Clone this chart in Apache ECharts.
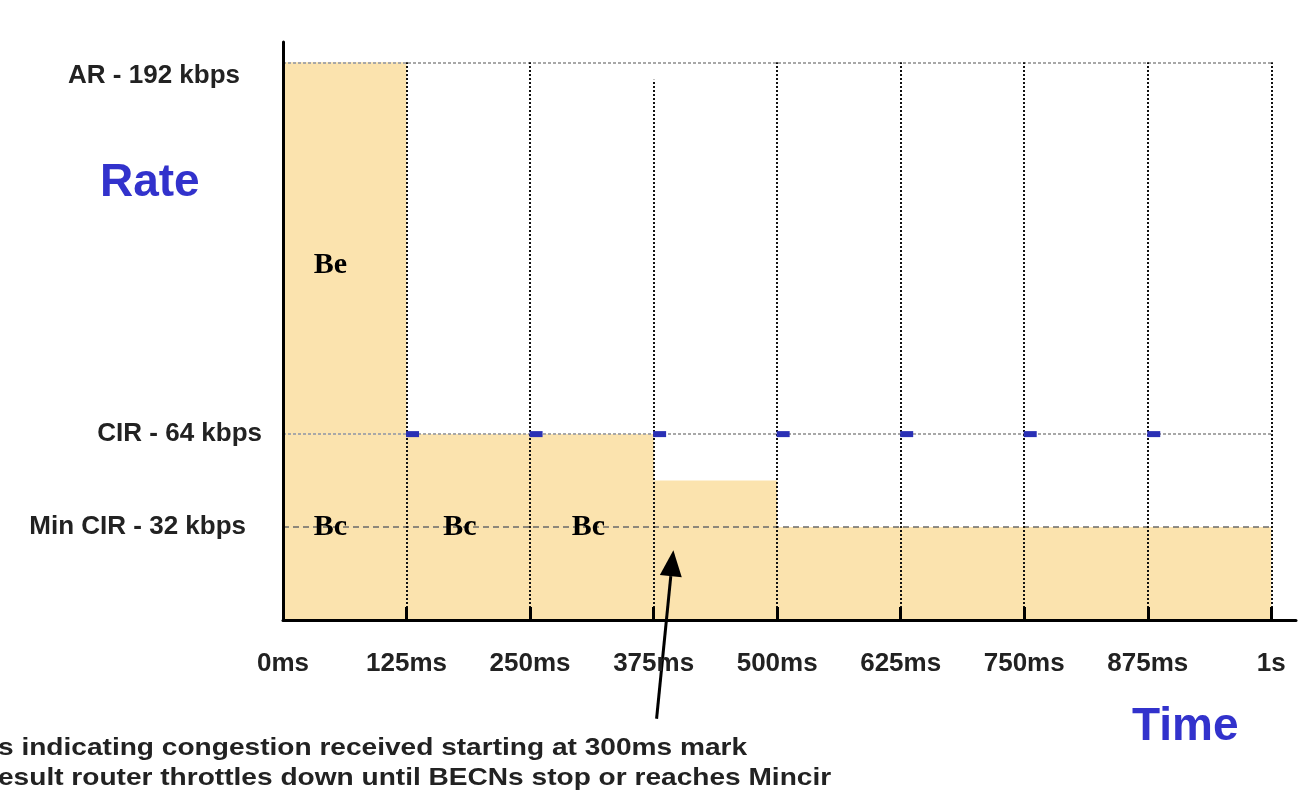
<!DOCTYPE html>
<html>
<head>
<meta charset="utf-8">
<script src="https://cdn.jsdelivr.net/npm/echarts@6/dist/echarts.min.js"></script>
<style>html,body{margin:0;padding:0;background:#fff;}#c{width:1300px;height:794px;}</style>
</head>
<body>
<div id="c"></div>
<script>
// ---- data ----
const segStart = [0, 125, 375, 500];
const segEnd = [125, 375, 500, 1000];
const segRate = [192, 64, 48, 32];
const xTickValues = [0, 125, 250, 375, 500, 625, 750, 875, 1000];
const xTickLabels = ['0ms', '125ms', '250ms', '375ms', '500ms', '625ms', '750ms', '875ms', '1s'];
const rateLevels = [32, 64, 192];
const rateLabels = ['Min CIR - 32 kbps', 'CIR - 64 kbps', 'AR - 192 kbps'];
const gridTimes = [125, 250, 375, 500, 625, 750, 875, 1000];
const gridTops = [192, 192, 186, 192, 192, 192, 192, 192];
const becnTimes = [125, 250, 375, 500, 625, 750, 875];
const burstNames = ['Be', 'Bc', 'Bc', 'Bc'];
const burstX = [48, 48, 179, 309];
const burstY = [122, 32, 32, 32];
const arrowTail = [378, -34];
const arrowTip = [395, 24];

const FONT = "'Liberation Sans', Arial, sans-serif";
const SERIF = "'Liberation Serif', 'Times New Roman', serif";
const chart = echarts.init(document.getElementById('c'), null, {renderer: 'canvas'});

const segData = segStart.map((s, i) => [s, segEnd[i], segRate[i]]);

const hLines = [
  {v: 192, style: {color: '#a8a8a8', type: [3, 2], width: 2}},
  {v: 64, style: {color: '#a8a8a8', type: [3, 2], width: 2}},
  {v: 32, style: {color: '#6a6a6a', type: [6, 4], width: 1.5}}
];
const markData = [];
hLines.forEach(h => markData.push([{coord: [0, h.v], lineStyle: h.style}, {coord: [1000, h.v]}]));
gridTimes.forEach((t, i) => markData.push([{coord: [t, 0], lineStyle: {color: '#111', type: [2, 2], width: 2}}, {coord: [t, gridTops[i]]}]));

const textGraphics = [
  {type: 'text', left: 100, top: 160, style: {text: 'Rate', fontFamily: FONT, fontWeight: 'bold', fontSize: 46, fill: '#3232cc'}},
  {type: 'text', left: 1132, top: 704, style: {text: 'Time', fontFamily: FONT, fontWeight: 'bold', fontSize: 46, fill: '#3232cc'}},
  {type: 'text', x: -2, y: 736, scaleX: 1.17, style: {text: 's indicating congestion received starting at 300ms mark', fontFamily: FONT, fontWeight: 'bold', fontSize: 24, fill: '#222'}},
  {type: 'text', x: -2, y: 766, scaleX: 1.17, style: {text: 'esult router throttles down until BECNs stop or reaches Mincir', fontFamily: FONT, fontWeight: 'bold', fontSize: 24, fill: '#222'}}
];

const option = {
  animation: false,
  grid: {left: 283, right: 4, top: 42, bottom: 174},
  xAxis: {
    type: 'value', min: 0, max: 1025, interval: 125, z: 10,
    axisLine: {lineStyle: {color: '#000', width: 3}},
    axisTick: {show: true, inside: true, length: 13, customValues: xTickValues.slice(1), lineStyle: {color: '#000', width: 3}},
    splitLine: {show: false},
    axisLabel: {
      margin: 31, fontFamily: FONT, fontWeight: 'bold', fontSize: 26, color: '#222',
      customValues: xTickValues,
      formatter: v => { const i = xTickValues.indexOf(v); return i < 0 ? '' : xTickLabels[i]; }
    }
  },
  yAxis: {
    type: 'value', min: 0, max: 199, interval: 32, z: 10,
    axisLine: {show: true, lineStyle: {color: '#000', width: 3}},
    axisTick: {show: false},
    splitLine: {show: false},
    axisLabel: {
      margin: 21, fontFamily: FONT, fontWeight: 'bold', fontSize: 26, color: '#222',
      customValues: rateLevels,
      formatter: v => {
        const i = rateLevels.indexOf(v);
        if (i < 0) return '';
        return '{l' + i + '|' + rateLabels[i] + '}';
      },
      rich: {
        l0: {fontFamily: FONT, fontWeight: 'bold', fontSize: 26, color: '#222', padding: [0, 16, 0, 0]},
        l1: {fontFamily: FONT, fontWeight: 'bold', fontSize: 26, color: '#222', padding: [0, 0, 0, 0]},
        l2: {fontFamily: FONT, fontWeight: 'bold', fontSize: 26, color: '#222', padding: [26, 22, 0, 0]}
      }
    }
  },
  series: [
    {
      type: 'custom', data: segData, z: 1,
      encode: {x: [0, 1], y: 2},
      renderItem: (params, api) => {
        const p0 = api.coord([api.value(0), api.value(2)]);
        const p1 = api.coord([api.value(1), 0]);
        return {type: 'rect', shape: {x: p0[0], y: p0[1], width: p1[0] - p0[0], height: p1[1] - p0[1]},
          style: {fill: '#fbe3ae'}};
      }
    },
    {
      type: 'line', data: [], z: 3,
      markLine: {silent: true, symbol: ['none', 'none'], label: {show: false}, data: markData, animation: false}
    },
    {
      type: 'scatter', z: 20, symbol: 'rect', symbolSize: [13, 6], symbolOffset: [6, 0],
      itemStyle: {color: '#2a30b5', opacity: 1},
      data: becnTimes.map(t => [t, 64])
    },
    {
      type: 'scatter', z: 21, symbolSize: 1, itemStyle: {opacity: 1, color: 'rgba(0,0,0,0)'},
      data: burstX.map((x, i) => ({value: [x, burstY[i]], name: burstNames[i]})),
      label: {show: true, position: 'inside', formatter: p => p.name, opacity: 1,
        fontFamily: SERIF, fontWeight: 'bold', fontSize: 30, color: '#000',
        textBorderWidth: 0, textBorderColor: 'transparent'}
    }
  ],
  graphic: textGraphics
};
chart.setOption(option);

// arrow annotation, positioned through the chart's scales
const a = chart.convertToPixel({gridIndex: 0}, arrowTail);
const b = chart.convertToPixel({gridIndex: 0}, arrowTip);
const dx = b[0] - a[0], dy = b[1] - a[1];
const len = Math.sqrt(dx * dx + dy * dy);
const ux = dx / len, uy = dy / len;
const headL = 26, headW = 11;
const base = [b[0] - ux * headL, b[1] - uy * headL];
chart.setOption({
  graphic: textGraphics.concat([
    {type: 'line', z: 10, shape: {x1: a[0], y1: a[1], x2: base[0], y2: base[1]}, style: {stroke: '#000', lineWidth: 3}},
    {type: 'polygon', z: 10, shape: {points: [b, [base[0] - uy * headW, base[1] + ux * headW], [base[0] + uy * headW, base[1] - ux * headW]]}, style: {fill: '#000'}}
  ])
}, {replaceMerge: ['graphic']});
</script>
</body>
</html>
